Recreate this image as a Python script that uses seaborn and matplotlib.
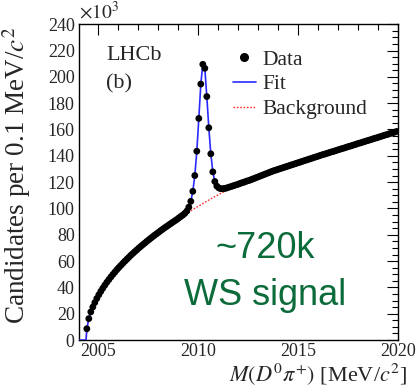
import numpy as np
import pandas as pd
import matplotlib
matplotlib.use("Agg")
import matplotlib.pyplot as plt
from matplotlib.ticker import MultipleLocator
from matplotlib.lines import Line2D
import seaborn as sns

# ---- data (y in units of 10^3 candidates per 0.1 MeV/c^2) ----
bin_start = 2004.45
bin_width = 0.1
data_y = [
    8.6, 16.3, 21.4, 25.1, 28.5, 31.6, 34.4, 37.0, 39.4, 41.7,
    43.9, 45.9, 47.9, 49.8, 51.6, 53.4, 55.1, 56.7, 58.3, 59.9,
    61.4, 62.9, 64.4, 65.8, 67.2, 68.5, 69.9, 71.2, 72.5, 73.7,
    75.0, 76.2, 77.4, 78.6, 79.8, 80.9, 82.0, 83.2, 84.3, 85.4,
    86.4, 87.5, 88.5, 89.6, 90.6, 91.6,
    92.8, 93.9, 95.0, 96.3, 98.0, 101.0, 105.4, 113.0, 125.0, 143.5,
    168.4, 194.5, 209.5, 206.5, 185.0, 161.3, 141.5, 127.8, 120.5, 117.0,
    115.6, 115.0, 115.0, 115.2, 115.6, 116.1, 116.6, 117.1, 117.6, 118.1,
    118.6, 119.2, 119.7, 120.2, 120.8,
    121.2, 121.8, 122.4, 123.0, 123.6, 124.2, 124.8, 125.4, 126.0, 126.6,
    127.2, 127.8, 128.4, 128.9, 129.4, 129.9, 130.4, 130.9, 131.4, 131.9,
    132.4, 132.9, 133.4, 133.9, 134.4, 134.9, 135.4, 135.9, 136.4, 136.9,
    137.4, 137.9, 138.4, 138.9, 139.4,
    139.9, 140.4, 140.9, 141.3, 141.8, 142.3, 142.8, 143.2, 143.7, 144.2,
    144.7, 145.2, 145.6, 146.1, 146.6, 147.1, 147.5, 148.0, 148.5, 149.0,
    149.5, 149.9, 150.4, 150.9, 151.4, 151.8, 152.3, 152.8, 153.3, 153.7,
    154.2, 154.7, 155.2, 155.7, 156.1, 156.6, 157.1, 157.6, 158.0, 158.5,
]
data_x = np.round(bin_start + bin_width * np.arange(len(data_y)), 2)

fit_x = [2004.05, 2004.41, 2004.45, 2004.55, 2004.65, 2004.8, 2005.0, 2005.5,
         2006.0, 2006.5, 2007.0, 2007.5, 2008.0, 2008.5, 2009.0, 2009.25,
         2009.45, 2009.55, 2009.65, 2009.75, 2009.85, 2009.95, 2010.05, 2010.15,
         2010.25, 2010.35, 2010.45, 2010.55, 2010.65, 2010.75, 2010.85, 2010.95,
         2011.05, 2011.25, 2011.5, 2012.0, 2012.5, 2013.0, 2014.0, 2015.0,
         2016.0, 2017.0, 2018.0, 2019.0, 2020.0]
fit_y = [0.0, 0.0, 8.6, 16.1, 21.1, 26.9, 33.0, 44.9,
         54.2, 62.2, 69.2, 75.6, 81.5, 87.0, 92.4, 95.0,
         98.0, 101.0, 105.4, 113.0, 125.0, 143.5, 168.4, 194.5,
         209.5, 206.5, 185.0, 161.3, 141.5, 127.8, 120.5, 117.0,
         115.6, 115.0, 115.8, 118.4, 120.9, 123.9, 129.6, 134.6,
         139.6, 144.5, 149.2, 153.9, 158.7]

bkg_x = [2004.41, 2004.5, 2004.75, 2005.0, 2005.5, 2006.0, 2006.5, 2007.0,
         2007.5, 2008.0, 2008.5, 2009.0, 2009.45, 2009.75, 2010.05, 2010.35,
         2010.65, 2010.95, 2011.25, 2011.55, 2011.85, 2012.15, 2012.5, 2013.0,
         2014.0, 2015.0, 2016.0, 2017.0, 2018.0, 2019.0, 2020.0]
bkg_y = [0.0, 12.9, 25.1, 33.0, 44.9, 54.2, 62.2, 69.2,
         75.6, 81.5, 87.0, 92.1, 96.5, 99.2, 101.9, 104.6,
         107.3, 109.8, 112.2, 114.6, 116.7, 118.8, 120.9, 123.9,
         129.6, 134.6, 139.6, 144.5, 149.2, 153.9, 158.7]

x_ticks = [2005, 2010, 2015, 2020]
y_ticks = list(range(0, 241, 20))

df_data = pd.DataFrame({"m": data_x, "n": data_y})
df_fit = pd.DataFrame({"m": fit_x, "n": fit_y})
df_bkg = pd.DataFrame({"m": bkg_x, "n": bkg_y})

sns.set_style("white")
plt.rcParams["font.family"] = ["Liberation Serif", "DejaVu Serif"]
plt.rcParams["mathtext.fontset"] = "stix"

fig = plt.figure(figsize=(4.17, 3.90), dpi=100)
ax = fig.add_axes([0.189, 0.128, 0.765, 0.810])

sns.lineplot(data=df_bkg, x="m", y="n", ax=ax, color="#ff3030",
             linestyle=(0, (1.2, 1.2)), linewidth=1.0, sort=False, zorder=2)
sns.lineplot(data=df_fit, x="m", y="n", ax=ax, color="#2a2aff",
             linewidth=1.2, sort=False, zorder=3)
sns.scatterplot(data=df_data, x="m", y="n", ax=ax, color="black", s=24,
                edgecolor="none", linewidth=0, zorder=4)

ax.set_xlim(2004.05, 2020.0)
ax.set_ylim(0, 240)
ax.set_xticks(x_ticks)
ax.set_yticks(y_ticks)
ax.xaxis.set_minor_locator(MultipleLocator(1))
ax.yaxis.set_minor_locator(MultipleLocator(5))
ax.tick_params(which="both", direction="in", top=True, right=True,
               labelsize=13, color="black", width=0.8)
ax.tick_params(axis="x", pad=2)
ax.tick_params(axis="y", pad=3)
ax.tick_params(which="major", length=8)
ax.tick_params(which="minor", length=4)
for s in ax.spines.values():
    s.set_color("black")
    s.set_linewidth(1.0)

ax.set_xlabel(r"$M(D^0\pi^{+})$ [MeV/$c^2$]", fontsize=16, ha="right")
ax.xaxis.set_label_coords(1.03, -0.068)
ax.set_ylabel(r"Candidates per 0.1 MeV/$c^2$", fontsize=19.5)
ax.yaxis.set_label_coords(-0.145, 0.522)

ax.text(0.0, 1.005, r"$\times10^{3}$", transform=ax.transAxes, fontsize=14,
        ha="left", va="bottom")
ax.text(0.085, 0.90, "LHCb", transform=ax.transAxes, fontsize=16,
        ha="left", va="center")
ax.text(0.085, 0.81, "(b)", transform=ax.transAxes, fontsize=16,
        ha="left", va="center")

handles = [
    Line2D([], [], marker="o", color="black", linestyle="none", markersize=5.5),
    Line2D([], [], color="#2a2aff", linewidth=1.2),
    Line2D([], [], color="#ff3030", linewidth=1.0, linestyle=(0, (1.2, 1.2))),
]
ax.legend(handles, ["Data", "Fit", "Background"], loc="upper left",
          bbox_to_anchor=(0.482, 0.92), frameon=False, fontsize=15.5,
          handlelength=1.1, handletextpad=0.3, labelspacing=0.22,
          borderaxespad=0, borderpad=0)

ax.text(0.585, 0.29, "~720k", transform=ax.transAxes, fontsize=26,
        color="#0b6b3a", ha="center", va="center",
        family=["Liberation Sans", "DejaVu Sans"])
ax.text(0.585, 0.14, "WS signal", transform=ax.transAxes, fontsize=26,
        color="#0b6b3a", ha="center", va="center",
        family=["Liberation Sans", "DejaVu Sans"])

fig.savefig("out.png", dpi=100)
